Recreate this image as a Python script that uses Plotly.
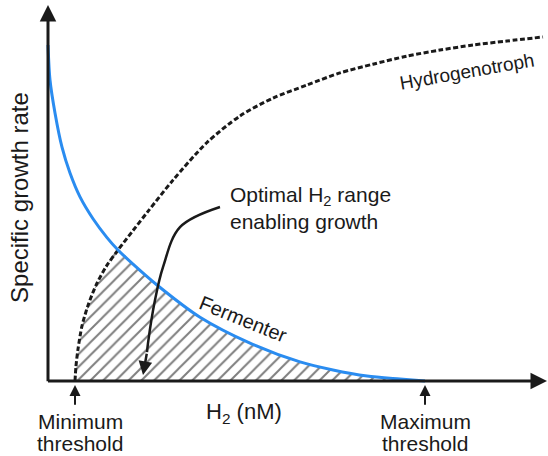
import plotly.graph_objects as go

# Fermenter specific growth rate vs H2 (arbitrary units)
ferm_x = [0, 0.04, 0.14, 0.28, 0.44, 0.64, 0.90, 1.18, 1.40, 1.70, 2.18, 3.04, 4.04, 5.04, 5.70, 6.38, 7.04, 7.54]
ferm_y = [1.0, 0.896, 0.798, 0.696, 0.619, 0.548, 0.483, 0.427, 0.390, 0.348, 0.286, 0.190, 0.113, 0.057, 0.033, 0.015, 0.006, 0.0]

# Hydrogenotroph specific growth rate vs H2
hyd_x = [0.54, 0.56, 0.60, 0.68, 0.80, 0.96, 1.16, 1.40, 1.70, 2.00, 2.50, 3.18, 3.84, 4.50,
         5.18, 5.84, 6.50, 7.18, 7.84, 8.50, 9.18, 9.90]
hyd_y = [0.0, 0.045, 0.095, 0.164, 0.225, 0.285, 0.340, 0.390, 0.448, 0.505, 0.598, 0.710, 0.789, 0.842,
         0.881, 0.917, 0.943, 0.967, 0.985, 1.0, 1.012, 1.024]

min_threshold = 0.54
max_threshold = 7.54
crossing_x = 1.4

# curved pointer from label to hatched region
pointer_x = [3.44, 2.64, 2.30, 2.14, 2.0, 1.98]
pointer_y = [0.518, 0.458, 0.339, 0.241, 0.113, 0.086]
pointer_tip = (1.9, 0.018)

FONT = "Arial, Liberation Sans, Helvetica, sans-serif"
INK = "#1a1a1a"
BLUE = "#2a8cf0"

# hatched region: below both curves between thresholds
hx = [x for x in hyd_x if x <= crossing_x] + [x for x in ferm_x if x > crossing_x]
hy = [y for x, y in zip(hyd_x, hyd_y) if x <= crossing_x] + [y for x, y in zip(ferm_x, ferm_y) if x > crossing_x]

fig = go.Figure()
fig.add_trace(go.Scatter(
    x=hx, y=hy, mode="lines", line=dict(width=0, shape="spline"),
    fill="tozeroy", fillcolor="rgba(0,0,0,0)",
    fillpattern=dict(shape="/", fgcolor="#000000", bgcolor="rgba(255,255,255,0)", size=9, solidity=0.22),
    hoverinfo="skip", showlegend=False))
fig.add_trace(go.Scatter(
    x=hyd_x, y=hyd_y, mode="lines",
    line=dict(color=INK, width=3, dash="5px,2.5px", shape="spline", smoothing=0.8), showlegend=False))
fig.add_trace(go.Scatter(
    x=ferm_x, y=ferm_y, mode="lines",
    line=dict(color=BLUE, width=3, shape="spline", smoothing=0.8), showlegend=False))
fig.add_trace(go.Scatter(
    x=pointer_x, y=pointer_y, mode="lines",
    line=dict(color=INK, width=2.5, shape="spline"), showlegend=False))

ann = []
# axes arrows
ann.append(dict(x=0, y=1.119, ax=0, ay=-0.005, xref="x", yref="y", axref="x", ayref="y",
                text="", showarrow=True, arrowhead=2, arrowsize=1.1, arrowwidth=3, arrowcolor=INK, standoff=0))
ann.append(dict(x=9.98, y=0, ax=-0.03, ay=0, xref="x", yref="y", axref="x", ayref="y",
                text="", showarrow=True, arrowhead=2, arrowsize=1.1, arrowwidth=3, arrowcolor=INK, standoff=0))
# threshold arrows
for tx in (min_threshold, max_threshold):
    ann.append(dict(x=tx, y=-0.012, ax=tx, ay=-0.075, xref="x", yref="y", axref="x", ayref="y",
                    text="", showarrow=True, arrowhead=2, arrowsize=1.1, arrowwidth=2, arrowcolor=INK, standoff=0))
# pointer arrowhead
ann.append(dict(x=pointer_tip[0], y=pointer_tip[1], ax=pointer_x[-1], ay=pointer_y[-1],
                xref="x", yref="y", axref="x", ayref="y",
                text="", showarrow=True, arrowhead=2, arrowsize=1.1, arrowwidth=2.5, arrowcolor=INK, standoff=0))

def label(text, x, y, size, angle=0, xanchor="center", align="center"):
    ann.append(dict(x=x, y=y, xref="x", yref="y", text=text, showarrow=False,
                    font=dict(family=FONT, size=size, color=INK), textangle=angle,
                    xanchor=xanchor, yanchor="middle", align=align))

label("Minimum", 0.64, -0.12, 21)
label("threshold", 0.64, -0.185, 21)
label("Maximum", max_threshold, -0.12, 21)
label("threshold", max_threshold, -0.185, 21)
label("H<sub>2</sub> (nM)", 3.92, -0.095, 22)
label("Specific growth rate", -0.56, 0.545, 24, angle=-90)
label("Optimal H<sub>2</sub> range<br>enabling growth", 3.60, 0.515, 21, xanchor="left", align="left")
label("Fermenter", 3.9, 0.185, 20, angle=22)
label("Hydrogenotroph", 8.38, 0.92, 19, angle=-10)

fig.update_layout(
    width=548, height=456, margin=dict(l=0, r=0, t=0, b=0),
    paper_bgcolor="white", plot_bgcolor="white",
    xaxis=dict(range=[-0.96, 10.0], visible=False, fixedrange=True),
    yaxis=dict(range=[-0.223, 1.134], visible=False, fixedrange=True),
    annotations=ann, showlegend=False)

fig.write_html("out.html", config={"displayModeBar": False},
               post_script="document.body.style.margin='0px';document.body.style.padding='0px';")
